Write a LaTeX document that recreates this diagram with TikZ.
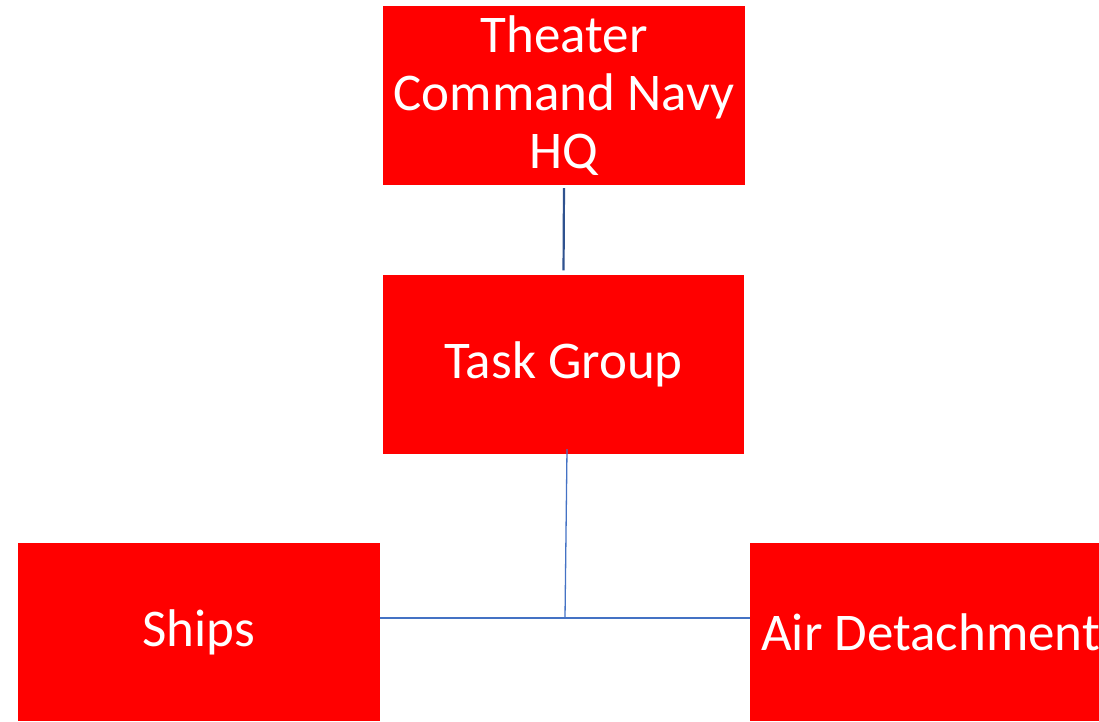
\documentclass[tikz,border=0pt]{standalone}
\usepackage{fontspec}
\setmainfont{Carlito}
\definecolor{boxred}{RGB}{255,0,0}
\definecolor{darkline}{RGB}{47,82,143}
\definecolor{lightline}{RGB}{68,114,196}
\begin{document}
\begin{tikzpicture}[x=1pt,y=-1pt,
  orgbox/.style={fill=boxred,draw=none,inner sep=0pt,text=white,align=center,
    font=\fontsize{53}{58}\selectfont},
  topconn/.style={draw=darkline,line width=2.2pt},
  lowconn/.style={draw=lightline,line width=1.3pt}]
\useasboundingbox (0,0) rectangle (1099,721);
\clip (0,0) rectangle (1099,721);
\node[orgbox,minimum width=362pt,minimum height=179pt] (top) at (564,95.5)
  {Theater\\Command Navy\\HQ};
\node[orgbox,minimum width=361pt,minimum height=179pt] (mid) at (563.5,364) {Task Group};
\node[orgbox,minimum width=362pt,minimum height=178pt] (ships) at (199,632) {Ships};
\node[orgbox,minimum width=361pt,minimum height=178pt] (air) at (930.5,632) {Air Detachment};
\coordinate (j) at (565,618);
\coordinate (ms) at (567,449);
\draw[topconn,shorten <=3pt,shorten >=4pt] (top.south) -- (mid.north);
\draw[lowconn] (ms) -- (j);
\draw[lowconn] (ships.east |- j) -- (air.west |- j);
\end{tikzpicture}
\end{document}
